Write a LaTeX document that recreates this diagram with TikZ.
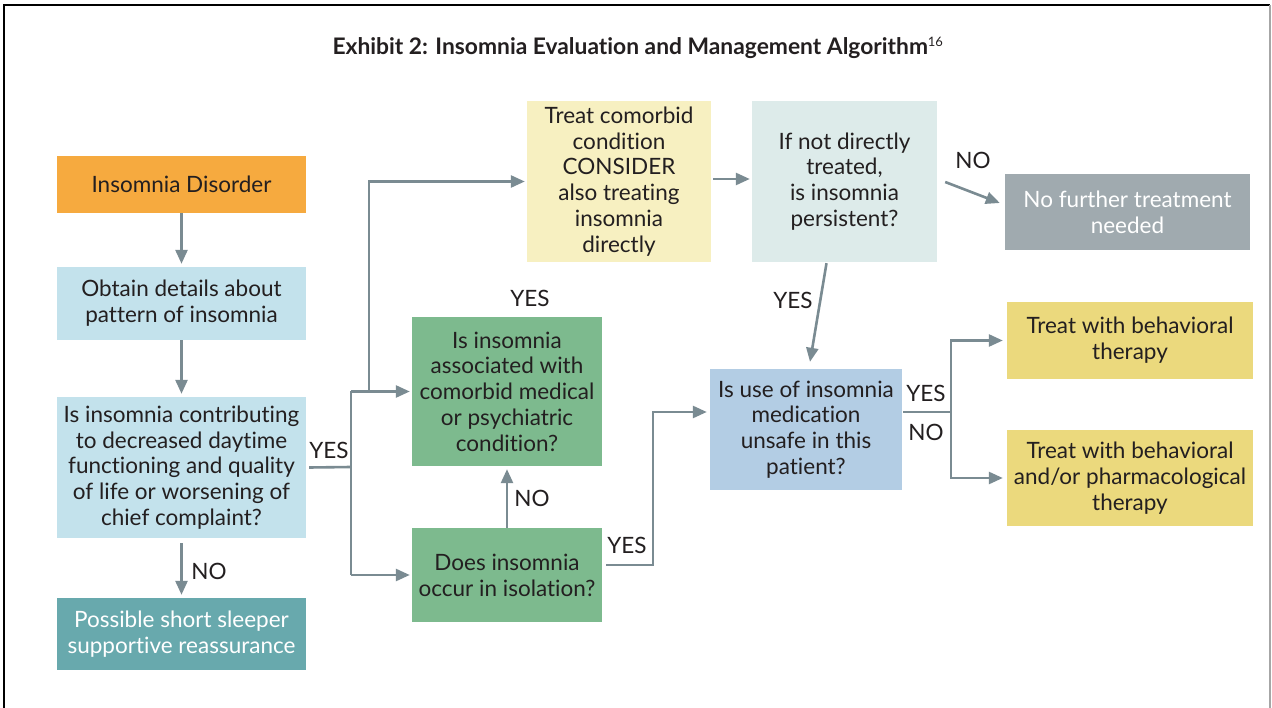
\documentclass[tikz,border=0pt]{standalone}
\usepackage{fontspec}
\setmainfont{Lato}[Ligatures=NoCommon]
\usetikzlibrary{arrows.meta,calc}

\definecolor{txt}{HTML}{231F20}
\definecolor{orangebox}{HTML}{F6AA3F}
\definecolor{paleblue}{HTML}{C3E2EC}
\definecolor{tealbox}{HTML}{68A9AD}
\definecolor{paleyellow}{HTML}{F7F0C1}
\definecolor{palecyan}{HTML}{DDEBEA}
\definecolor{greybox}{HTML}{A0AAAF}
\definecolor{greenbox}{HTML}{7DBA8E}
\definecolor{bluebox}{HTML}{B3CDE4}
\definecolor{yellowbox}{HTML}{EBD97D}
\definecolor{connector}{HTML}{7A8B92}

\begin{document}
\begin{tikzpicture}[x=1pt,y=-1pt,
  every node/.style={font=\fontsize{22.5}{25.8}\selectfont, text=txt},
  box/.style={inner sep=0pt, align=center},
  flow/.style={draw=connector, line width=2.6pt,
    -{Triangle[length=14pt,width=12pt]}},
  link/.style={draw=connector, line width=2.6pt},
  lbl/.style={inner sep=0pt}]

\useasboundingbox (0,0) rectangle (1272,708);
\fill[white] (0,0) rectangle (1272,708);

% outer frame
\draw[black, line width=1.6pt] (4,720) -- (4,5) -- (1270,5);
\draw[gray!70, line width=1.6pt] (1270,5) -- (1270,720);

% title
\node[lbl, font=\fontsize{22.8}{26}\selectfont] (title) at (638,48) {\textbf{Exhibit 2: Insomnia Evaluation and Management Algorithm}\textsuperscript{\fontsize{13}{13}\selectfont 16}};

% boxes
\node[box, fill=orangebox, minimum width=249pt, minimum height=57pt] (dis) at (181.5,184.5) {Insomnia Disorder};
\node[box, fill=paleblue, minimum width=249pt, minimum height=73pt] (det) at (181.5,303.5) {Obtain details about\\pattern of insomnia};
\node[box, fill=paleblue, minimum width=249pt, minimum height=141pt] (con) at (181.5,467.5) {Is insomnia contributing\\to decreased daytime\\functioning and quality\\of life or worsening of\\chief complaint?};
\node[box, fill=tealbox, minimum width=249pt, minimum height=72pt, text=white] (short) at (181.5,634) {Possible short sleeper\\supportive reassurance};
\node[box, fill=paleyellow, minimum width=184pt, minimum height=161pt] (treatc) at (619,181.5) {Treat comorbid\\condition\\CONSIDER\\also treating\\insomnia\\directly};
\node[box, fill=palecyan, minimum width=185pt, minimum height=161pt] (pers) at (844.5,181.5) {\raisebox{3pt}{\parbox{180pt}{\centering If not directly\\treated,\\is insomnia\\persistent?}}};
\node[box, fill=greybox, minimum width=245pt, minimum height=76pt, text=white] (nofur) at (1127.5,212) {No further treatment\\needed};
\node[box, fill=greenbox, minimum width=190pt, minimum height=149pt] (assoc) at (507,391.5) {Is insomnia\\associated with\\comorbid medical\\or psychiatric\\condition?};
\node[box, fill=greenbox, minimum width=190pt, minimum height=94pt] (iso) at (507,575) {Does insomnia\\occur in isolation?};
\node[box, fill=bluebox, minimum width=192pt, minimum height=121pt] (unsafe) at (806,429.5) {Is use of insomnia\\medication\\unsafe in this\\patient?};
\node[box, fill=yellowbox, minimum width=246pt, minimum height=77pt] (beh) at (1130,340.5) {Treat with behavioral\\therapy};
\node[box, fill=yellowbox, minimum width=246pt, minimum height=96pt] (pharm) at (1130,478) {Treat with behavioral\\and/or pharmacological\\therapy};

% junction points
\coordinate (jA) at (351,467);
\coordinate (jB) at (369,390);
\coordinate (jC) at (653,565);
\coordinate (jD) at (951,412);

% left column
\draw[flow] (dis.south) -- ($(det.north)+(0,-3)$);
\draw[flow] (det.south) -- ($(con.north)+(0,-3)$);
\draw[flow] ($(con.south)+(0,5)$) -- ($(short.north)+(0,-3)$);
\node[lbl] (noA) at (209,571) {NO};

% YES branch from the contribution question
\draw[link] ($(con.east)+(3,0)$) -- (jA);
\node[lbl] (yesA) at (329,450) {YES};
\draw[link] (jA |- assoc.west) -- (jA) -- (jA |- iso.west);
\draw[flow] (jA |- assoc.west) -- ($(assoc.west)+(-2,0)$);
\draw[flow] (jA |- iso.west) -- ($(iso.west)+(-2,0)$);
\draw[flow] (jB |- assoc.west) -- (jB |- treatc.west) -- ($(treatc.west)+(-2,0)$);
\node[lbl] (yesB) at (530,298) {YES};

% isolation question
\draw[flow] (iso.north) -- ($(assoc.south)+(0,3)$);
\node[lbl] (noB) at (532,498) {NO};
\draw[flow] ($(iso.east)+(4,-10)$) -- (jC) -- (jC |- jD) -- ($(unsafe.west)+(-3,-17.5)$);
\node[lbl] (yesC) at (627,545) {YES};

% upper row
\draw[flow] ($(treatc.east)+(2,-2.5)$) -- ($(pers.west)+(-2,-2.5)$);
\draw[flow] ($(pers.east)+(8,0.5)$) -- ($(nofur.west)+(-5,-9)$);
\node[lbl] (noC) at (973,160) {NO};
\draw[flow] ($(pers.south)+(-18,1)$) -- ($(unsafe.north)+(4,-7)$);
\node[lbl] (yesD) at (793,300) {YES};

% medication safety question
\draw[link] ($(unsafe.east)+(1,-17.5)$) -- (jD);
\draw[flow] (jD) -- (jD |- beh.west) -- ($(beh.west)+(-4,0)$);
\draw[flow] (jD) -- (jD |- pharm.west) -- ($(pharm.west)+(-4,0)$);
\node[lbl] (yesE) at (926,393) {YES};
\node[lbl] (noE) at (926,432) {NO};

\end{tikzpicture}
\end{document}
